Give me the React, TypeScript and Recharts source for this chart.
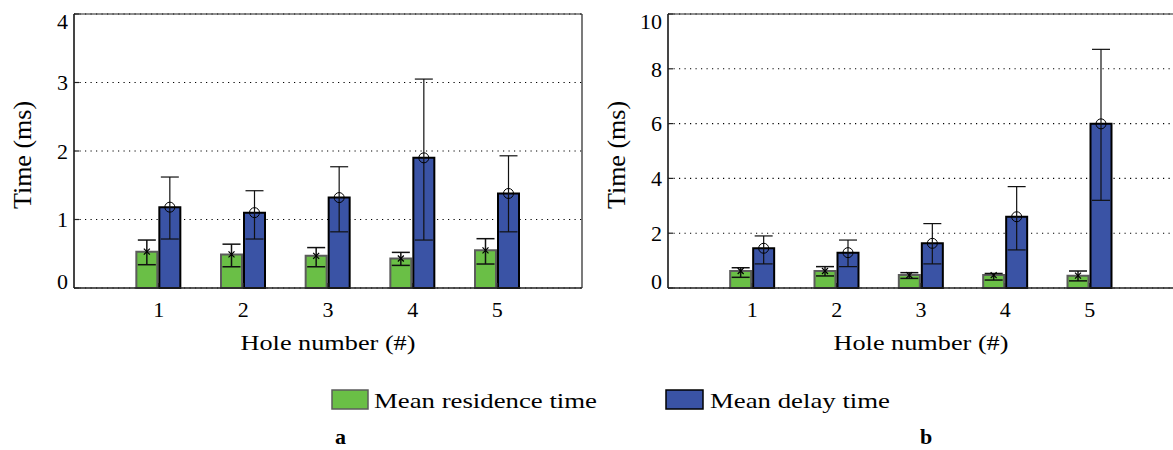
import React from "react";
import { Bar, BarChart, CartesianGrid, ErrorBar, Label, ReferenceLine, XAxis, YAxis } from "recharts";

// hole numbers on the x axis
const holes = [1, 2, 3, 4, 5];

// panel a values (ms)
const residenceA = [0.53, 0.49, 0.47, 0.43, 0.55];
const residenceALow = [0.34, 0.31, 0.31, 0.33, 0.35];
const residenceAHigh = [0.7, 0.64, 0.59, 0.52, 0.72];
const delayA = [1.18, 1.1, 1.32, 1.9, 1.38];
const delayALow = [0.715, 0.715, 0.82, 0.7, 0.82];
const delayAHigh = [1.62, 1.42, 1.77, 3.05, 1.93];

// panel b values (ms)
const residenceB = [0.62, 0.62, 0.47, 0.47, 0.45];
const residenceBLow = [0.39, 0.44, 0.35, 0.29, 0.26];
const residenceBHigh = [0.74, 0.78, 0.56, 0.53, 0.62];
const delayB = [1.45, 1.29, 1.63, 2.6, 5.99];
const delayBLow = [0.88, 0.78, 0.88, 1.39, 3.2];
const delayBHigh = [1.9, 1.75, 2.35, 3.7, 8.71];

const yTicksA = [0, 1, 2, 3, 4];
const yTicksB = [0, 2, 4, 6, 8, 10];

const FONT = '"Liberation Serif", "Times New Roman", serif';
const GREEN = "#6abf46";
const BLUE = "#3a53a5";
const AXIS = "#222";

const txt = (size: number, bold = false): React.CSSProperties => ({
  fontFamily: FONT,
  fontSize: size,
  fontWeight: bold ? 700 : 400,
  fill: "#000",
});

const buildRows = (
  res: number[], resLo: number[], resHi: number[],
  del: number[], delLo: number[], delHi: number[]
) =>
  holes.map((h, i) => ({
    hole: h,
    residence: res[i],
    residenceErr: [res[i] - resLo[i], resHi[i] - res[i]],
    delay: del[i],
    delayErr: [del[i] - delLo[i], delHi[i] - del[i]],
  }));

const rowsA = buildRows(residenceA, residenceALow, residenceAHigh, delayA, delayALow, delayAHigh);
const rowsB = buildRows(residenceB, residenceBLow, residenceBHigh, delayB, delayBLow, delayBHigh);

const circleMark = (p: any) => {
  const cx = p.x + p.width / 2;
  return <circle key={`c${p.index}`} cx={cx} cy={p.y} r={5} fill="none" stroke="#000" strokeWidth={1} />;
};

const crossMark = (p: any) => {
  const cx = p.x + p.width / 2;
  const cy = p.y;
  const s = 3;
  return (
    <path
      key={`x${p.index}`}
      d={`M${cx - s},${cy - s}L${cx + s},${cy + s}M${cx - s},${cy + s}L${cx + s},${cy - s}`}
      stroke="#000"
      strokeWidth={1.2}
    />
  );
};

const makeYTick = (min: number, max: number) => (p: any) => {
  const v = p.payload.value;
  const shift = v === max ? 7 : v === min ? -7 : 0;
  return (
    <text x={p.x} y={p.y + shift} dy="0.35em" textAnchor="end" style={txt(22)}>
      {v}
    </text>
  );
};

const xTick = (p: any) => (
  <text x={p.x} y={317} textAnchor="middle" style={txt(22)}>
    {p.payload.value}
  </text>
);

const xLabel = (p: any) => {
  const vb = p.viewBox;
  return (
    <text
      x={vb.x + vb.width / 2}
      y={350}
      textAnchor="middle"
      style={txt(22)}
      textLength={175}
      lengthAdjust="spacingAndGlyphs"
    >
      Hole number (#)
    </text>
  );
};

const makeYLabel = (dx: number) => (p: any) => {
  const vb = p.viewBox;
  const cx = vb.x + dx;
  const cy = vb.y + vb.height / 2 + 4;
  return (
    <text
      x={cx}
      y={cy}
      transform={`rotate(-90, ${cx}, ${cy})`}
      textAnchor="middle"
      dominantBaseline="central"
      style={txt(26)}
    >
      Time (ms)
    </text>
  );
};

type PanelProps = {
  rows: ReturnType<typeof buildRows>;
  yTicks: number[];
  left: number;
  width: number;
  yAxisWidth: number;
  marginRight: number;
  labelDx: number;
};

function Panel({ rows, yTicks, left, width, yAxisWidth, marginRight, labelDx }: PanelProps) {
  const yMax = yTicks[yTicks.length - 1];
  const line = { stroke: AXIS, strokeWidth: 1.2 };
  return (
    <div style={{ position: "absolute", left, top: 0 }}>
      <BarChart
        width={width}
        height={365}
        data={rows}
        margin={{ top: 14, right: marginRight, left: 14, bottom: 0 }}
        barGap={2}
      >
        <CartesianGrid vertical={false} stroke="#000" strokeWidth={1.1} strokeDasharray="1.2 4.3" />
        <XAxis
          dataKey="hole"
          type="number"
          domain={[0, 6]}
          ticks={holes}
          allowDataOverflow
          height={77}
          tickSize={-5}
          tickMargin={0}
          tick={xTick}
          axisLine={line}
          tickLine={line}
        >
          <Label content={xLabel} />
        </XAxis>
        <XAxis
          xAxisId="top"
          orientation="top"
          dataKey="hole"
          type="number"
          domain={[0, 6]}
          ticks={holes}
          allowDataOverflow
          height={0}
          tickSize={-5}
          tickFormatter={() => ""}
          axisLine={line}
          tickLine={line}
        />
        <YAxis
          type="number"
          domain={[0, yMax]}
          ticks={yTicks}
          width={yAxisWidth}
          tickSize={-5}
          tickMargin={11}
          tick={makeYTick(0, yMax)}
          axisLine={line}
          tickLine={line}
        >
          <Label content={makeYLabel(labelDx)} />
        </YAxis>
        <YAxis
          yAxisId="r"
          orientation="right"
          type="number"
          domain={[0, yMax]}
          ticks={yTicks}
          width={0}
          tickSize={-5}
          tickFormatter={() => ""}
          axisLine={line}
          tickLine={line}
        />
        {/* plot box */}
        <ReferenceLine x={0} {...line} ifOverflow="visible" />
        <ReferenceLine x={6} {...line} ifOverflow="visible" />
        <ReferenceLine y={0} {...line} ifOverflow="visible" />
        <ReferenceLine y={yMax} {...line} ifOverflow="visible" />
        <Bar
          dataKey="residence"
          fill={GREEN}
          stroke="#5c5c5c"
          strokeWidth={2}
          barSize={21}
          isAnimationActive={false}
          label={crossMark}
        >
          <ErrorBar dataKey="residenceErr" width={9} stroke="#111" strokeWidth={1.5} direction="y" />
        </Bar>
        <Bar
          dataKey="delay"
          fill={BLUE}
          stroke="#000"
          strokeWidth={2}
          barSize={21}
          isAnimationActive={false}
          label={circleMark}
        >
          <ErrorBar dataKey="delayErr" width={9} stroke="#111" strokeWidth={1.2} direction="y" />
        </Bar>
      </BarChart>
    </div>
  );
}

export default function App() {
  return (
    <div style={{ position: "absolute", left: 0, top: 0, width: 1173, height: 450, background: "#fff", overflow: "hidden" }}>
      <Panel rows={rowsA} yTicks={yTicksA} left={0} width={590} yAxisWidth={60} marginRight={8} labelDx={8} />
      <Panel rows={rowsB} yTicks={yTicksB} left={590} width={584} yAxisWidth={64} marginRight={0} labelDx={12} />
      <svg width={1173} height={450} style={{ position: "absolute", left: 0, top: 0, pointerEvents: "none" }}>
        <rect x={332} y={390} width={36} height={19} fill={GREEN} stroke="#5c5c5c" strokeWidth={1.5} />
        <text x={374} y={408} style={txt(22)} textLength={223} lengthAdjust="spacingAndGlyphs">
          Mean residence time
        </text>
        <rect x={666} y={390} width={37} height={19} fill={BLUE} stroke="#000" strokeWidth={1.5} />
        <text x={710} y={408} style={txt(22)} textLength={180} lengthAdjust="spacingAndGlyphs">
          Mean delay time
        </text>
        <text x={335} y={444} style={txt(22, true)}>a</text>
        <text x={920} y={444} style={txt(22, true)}>b</text>
      </svg>
    </div>
  );
}
